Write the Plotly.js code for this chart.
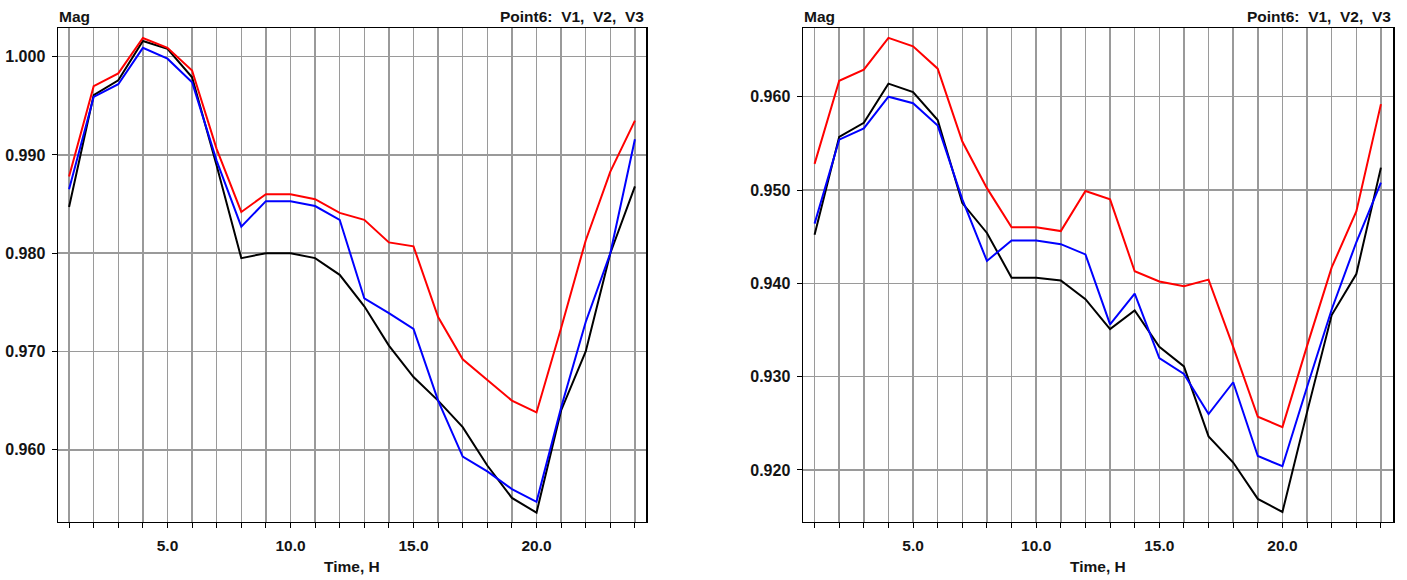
<!DOCTYPE html>
<html>
<head>
<meta charset="utf-8">
<script src="https://cdn.plot.ly/plotly-3.0.1.min.js"></script>
<style>
  html, body { margin: 0; padding: 0; background: #ffffff; }
  #chart { width: 1407px; height: 580px; }
</style>
</head>
<body>
<div id="chart"></div>
<script>
// ---- Data ----
const hours = [1, 2, 3, 4, 5, 6, 7, 8, 9, 10, 11, 12, 13, 14, 15, 16, 17, 18, 19, 20, 21, 22, 23, 24];

const xTickVals = hours;
const xTickText = ["", "", "", "", "5.0", "", "", "", "", "10.0", "", "", "", "", "15.0", "", "", "", "", "20.0", "", "", "", ""];

// Left chart
const leftV1 = [0.9847, 0.9961, 0.9976, 1.0016, 1.0008, 0.9979, 0.9889, 0.9795, 0.9800, 0.9800, 0.9795, 0.9778, 0.9746, 0.9706, 0.9674, 0.9650, 0.9623, 0.9584, 0.9551, 0.9536, 0.9640, 0.9700, 0.9800, 0.9868];
const leftV2 = [0.9865, 0.9959, 0.9972, 1.0009, 0.9998, 0.9974, 0.9894, 0.9827, 0.9853, 0.9853, 0.9848, 0.9834, 0.9754, 0.9739, 0.9723, 0.9650, 0.9593, 0.9578, 0.9560, 0.9547, 0.9643, 0.9730, 0.9800, 0.9916];
const leftV3 = [0.9878, 0.9970, 0.9983, 1.0019, 1.0009, 0.9986, 0.9906, 0.9842, 0.9860, 0.9860, 0.9855, 0.9841, 0.9834, 0.9811, 0.9807, 0.9735, 0.9692, 0.9671, 0.9650, 0.9638, 0.9724, 0.9813, 0.9883, 0.9935];

// Right chart
const rightV1 = [0.9452, 0.9557, 0.9572, 0.9614, 0.9605, 0.9575, 0.9486, 0.9454, 0.9406, 0.9406, 0.9403, 0.9383, 0.9351, 0.9371, 0.9332, 0.9311, 0.9236, 0.9208, 0.9169, 0.9155, 0.9262, 0.9366, 0.9410, 0.9524];
const rightV2 = [0.9464, 0.9554, 0.9566, 0.9600, 0.9593, 0.9569, 0.9490, 0.9424, 0.9446, 0.9446, 0.9442, 0.9431, 0.9356, 0.9389, 0.9320, 0.9303, 0.9260, 0.9294, 0.9215, 0.9204, 0.9289, 0.9372, 0.9444, 0.9508];
const rightV3 = [0.9528, 0.9617, 0.9629, 0.9663, 0.9654, 0.9630, 0.9552, 0.9502, 0.9460, 0.9460, 0.9456, 0.9499, 0.9490, 0.9413, 0.9402, 0.9397, 0.9404, 0.9332, 0.9257, 0.9246, 0.9333, 0.9417, 0.9477, 0.9592];

const seriesNames = ["V1", "V2", "V3"];
const seriesColors = ["#000000", "#0000ff", "#ff0000"];

const yLabel = "Mag";
const xLabel = "Time, H";
const chartTitle = "Point6:\u00a0 V1,\u00a0 V2,\u00a0 V3";

// ---- Layout ----
const W = 1407, H = 580;
const FONT = "Liberation Sans, Arial, sans-serif";
const TXT = "#141414";

const leftFrame = [58, 646];
const rightFrame = [803, 1393];
const frameY = [28, 521.5];

function px(x) { return x / W; }
function py(y) { return 1 - y / H; }

function traces(ys, xa, ya) {
  return ys.map((y, i) => ({
    type: "scatter",
    mode: "lines",
    x: hours,
    y: y,
    name: seriesNames[i],
    xaxis: xa,
    yaxis: ya,
    line: { color: seriesColors[i], width: 2 },
    showlegend: false,
    hoverinfo: "skip"
  }));
}

const data = [].concat(
  traces([leftV1, leftV2, leftV3], "x", "y"),
  traces([rightV1, rightV2, rightV3], "x2", "y2")
);

function xAxis(domain, range, anchor) {
  return {
    domain: domain,
    range: range,
    anchor: anchor,
    tickmode: "array",
    tickvals: xTickVals,
    ticktext: xTickText,
    ticks: "outside",
    ticklen: 5,
    tickwidth: 1,
    tickcolor: "#000",
    showgrid: true,
    gridcolor: "#9a9a9a",
    gridwidth: 1.5,
    zeroline: false,
    showline: true,
    mirror: true,
    linecolor: "#000",
    linewidth: 1.5,
    tickfont: { family: FONT, size: 15.5, color: TXT, weight: "bold" },
    ticklabelstandoff: 4,
    fixedrange: true
  };
}

function yAxis(range, tick0, anchor) {
  return {
    domain: [py(frameY[1]), py(frameY[0])],
    range: range,
    anchor: anchor,
    tickmode: "linear",
    tick0: tick0,
    dtick: 0.01,
    tickformat: ".3f",
    ticks: "outside",
    ticklen: 5,
    tickwidth: 1,
    tickcolor: "#000",
    showgrid: true,
    gridcolor: "#9a9a9a",
    gridwidth: 1.5,
    zeroline: false,
    showline: true,
    mirror: true,
    linecolor: "#000",
    linewidth: 1.5,
    tickfont: { family: FONT, size: 16, color: TXT, weight: "bold" },
    ticklabelstandoff: 3,
    fixedrange: true
  };
}

const annFont = { family: FONT, size: 15.5, color: TXT, weight: "bold" };

function ann(text, x, y, xanchor) {
  return {
    text: text, xref: "paper", yref: "paper",
    x: px(x), y: py(y), xanchor: xanchor, yanchor: "middle",
    showarrow: false, font: annFont
  };
}

const layout = {
  width: W,
  height: H,
  margin: { l: 0, r: 0, t: 0, b: 0 },
  paper_bgcolor: "#ffffff",
  plot_bgcolor: "#ffffff",
  showlegend: false,
  xaxis: xAxis([px(leftFrame[0]), px(leftFrame[1])], [0.55, 24.45], "y"),
  yaxis: yAxis([0.9527, 1.00292], 0.96, "x"),
  xaxis2: xAxis([px(rightFrame[0]), px(rightFrame[1])], [0.53, 24.49], "y2"),
  yaxis2: yAxis([0.91448, 0.96736], 0.92, "x2"),
  annotations: [
    ann(yLabel, leftFrame[0] - 1, 16, "left"),
    ann(chartTitle, leftFrame[1], 16, "right"),
    ann(xLabel, (leftFrame[0] + leftFrame[1]) / 2, 566, "center"),
    ann(yLabel, rightFrame[0] - 1, 16, "left"),
    ann(chartTitle, rightFrame[1], 16, "right"),
    ann(xLabel, (rightFrame[0] + rightFrame[1]) / 2, 566, "center")
  ]
};

Plotly.newPlot("chart", data, layout, { staticPlot: true, displayModeBar: false });
</script>
</body>
</html>
